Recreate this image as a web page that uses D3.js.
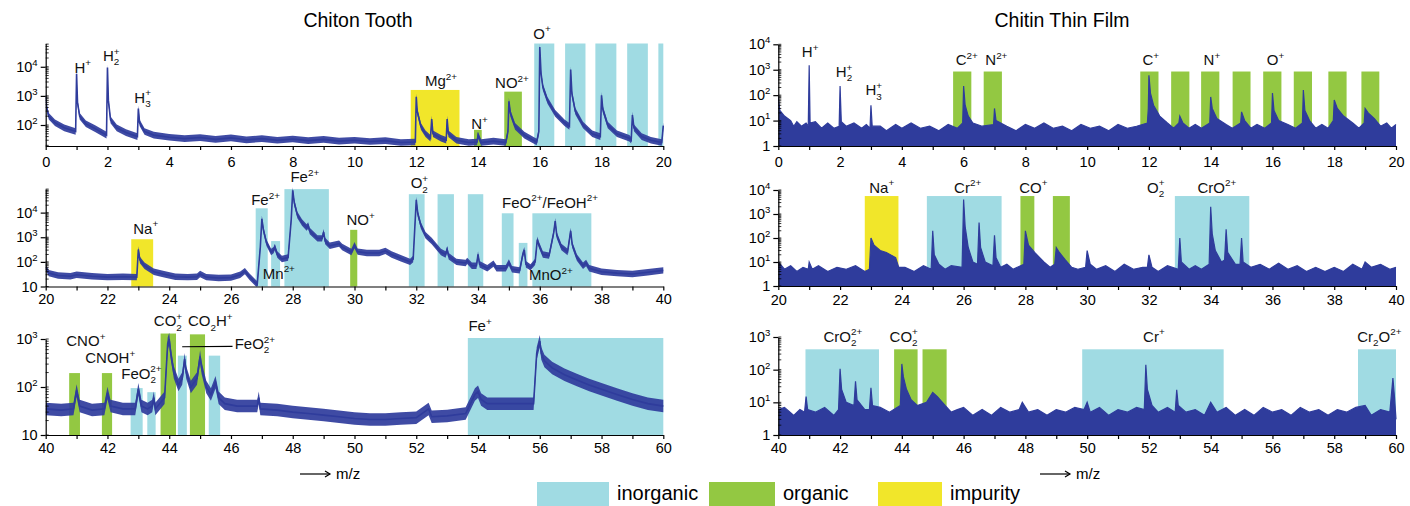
<!DOCTYPE html>
<html>
<head>
<meta charset="utf-8">
<title>Chiton Tooth / Chitin Thin Film mass spectra</title>
<script src="https://d3js.org/d3.v7.min.js"></script>
<style>
  * { margin: 0; padding: 0; }
  body { background: #fff; }
  svg { display: block; font-family: "Liberation Sans", Arial, Helvetica, sans-serif; }
</style>
</head>
<body>
<div id="chart"></div>
<script>
// ---- data: spectra as [m/z, counts] knots, bands as [from, to, top, kind], labels as [text, m/z, counts, anchor]

const traceTooth1 = [[0,1000],[0.03,400],[0.1,200],[0.3,120],[0.6,80],[0.97,60],[1.0,5800],[1.03,600],[1.1,200],[1.3,110],[1.6,75],[1.97,45],
  [2.0,9500],[2.03,700],[2.1,150],[2.3,80],[2.6,55],[2.97,40],[3.0,370],[3.04,120],[3.2,60],[3.5,45],[4,38],[4.5,34],[5,37],[5.5,32],
  [6,36],[6.5,31],[7,34],[7.5,30],[8,33],[8.5,29],[9,32],[9.5,28],[10,30],[10.5,27],[11,29],[11.5,25],[11.97,26],[12.0,930],[12.03,300],
  [12.15,90],[12.3,50],[12.46,35],[12.5,160],[12.54,50],[12.8,35],[12.97,30],
  [13.0,160],[13.04,50],[13.3,30],[13.7,25],[13.97,26],[14.0,45],[14.1,25],[14.5,28],[14.9,25],[14.97,60],[15.0,650],[15.05,250],[15.2,90],[15.5,45],
  [15.9,26],[15.97,60],[16.0,48000],[16.04,6000],[16.1,2000],[16.25,700],[16.5,250],[16.8,120],[16.96,90],[17.0,8000],[17.04,1200],
  [17.15,300],[17.4,100],[17.7,50],[17.96,40],[18.0,1050],[18.04,350],[18.2,100],[18.5,50],[18.9,35],[18.96,30],[19.0,220],[19.05,80],
  [19.3,40],[19.6,30],[19.95,25],[20.0,95]];
const traceTooth2 = [[20,60],[20.1,35],[20.4,28],[20.8,26],[21.0,30],[21.5,26],[22,24],[22.5,25],[22.95,24],[23.0,320],[23.05,120],[23.2,70],
  [23.5,40],[23.8,32],[24.2,25],[24.6,24],[24.9,25],[25.0,32],[25.2,24],[25.6,22],[26.0,23],[26.3,30],[26.45,42],[26.6,25],[26.85,12],
  [26.95,400],[27.0,5600],[27.05,2000],[27.15,600],[27.3,250],[27.38,300],[27.42,400],[27.5,200],[27.65,130],[27.85,150],[27.95,5000],
  [28.0,80000],[28.05,25000],[28.15,8000],[28.3,4000],[28.45,2500],[28.5,3000],[28.55,1800],[28.8,900],[28.95,900],[29.0,1600],[29.05,700],
  [29.2,450],[29.5,550],[29.6,400],[29.9,250],[30.0,470],[30.1,260],[30.4,230],[30.8,230],[31.0,280],[31.2,200],[31.5,140],[31.8,100],
  [31.9,130],[32.0,33000],[32.05,9000],[32.15,3000],[32.3,1200],[32.5,700],[32.8,250],[32.95,200],[33.0,320],[33.05,170],[33.3,100],
  [33.6,90],[33.65,110],[33.8,70],[33.95,70],[34.0,200],[34.05,80],[34.3,55],[34.5,85],[34.6,55],[34.9,55],[35.0,95],[35.1,50],[35.35,45],
  [35.45,200],[35.5,300],[35.55,80],[35.7,60],[35.85,100],[35.92,800],[35.97,500],[36.1,200],[36.3,180],[36.45,1500],[36.5,4500],
  [36.55,1200],[36.7,400],[36.9,250],[36.97,1000],[37.0,1800],[37.05,500],[37.2,150],[37.4,70],[37.5,90],[37.6,55],[38,40],[38.5,35],
  [39,32],[39.5,38],[40,45]];
const traceTooth3 = [[40,35],[40.5,33],[40.9,35],[41.0,85],[41.1,40],[41.5,33],[41.9,35],[42.0,75],[42.1,40],[42.5,35],[42.9,35],[43.0,90],
  [43.1,40],[43.3,35],[43.45,40],[43.5,60],[43.55,35],[43.85,60],[43.95,800],[44.0,1000],[44.05,500],[44.15,200],[44.3,110],[44.42,150],
  [44.5,380],[44.55,200],[44.7,100],[44.9,150],[45.0,430],[45.05,250],[45.2,100],[45.35,70],[45.5,125],[45.6,60],[45.8,45],[46.2,40],
  [46.5,40],[46.85,40],[46.9,60],[46.95,35],[47.5,33],[48,30],[48.5,28],[49,26],[49.5,24],[50,22],[50.5,21],[51,21],[51.5,22],[52,23],
  [52.4,35],[52.5,24],[53,25],[53.6,28],[53.9,70],[54.0,80],[54.1,55],[54.3,45],[55,45],[55.5,45],[55.8,45],[55.9,500],[56.0,900],
  [56.05,500],[56.15,350],[56.4,250],[56.8,180],[57.2,140],[57.6,110],[58,90],[58.5,70],[59,55],[59.5,45],[60,40]];

const traceFilm1 = [[0,80],[0.05,25],[0.2,15],[0.4,10],[0.5,6],[0.6,9],[0.75,6],[0.9,8],[0.97,6],[1.0,1500],[1.03,8],[1.2,9],[1.4,5],
  [1.6,8],[1.8,5],[1.97,6],[2.0,230],[2.04,9],[2.2,6],[2.45,8],[2.7,5],[2.85,7],[2.97,5],[3.0,40],[3.04,6],[3.3,6],[3.5,4],[3.8,7],
  [4.0,5],[4.3,8],[4.6,5],[4.9,6],[5.2,4],[5.5,7],[5.8,5],[5.97,8],[6.0,230],[6.05,40],[6.15,15],[6.3,8],[6.6,6],[6.97,7],[7.0,30],
  [7.05,10],[7.4,6],[7.7,4],[8.0,7],[8.3,5],[8.6,8],[8.9,5],[9.2,6],[9.5,4],[9.8,7],[10.1,5],[10.4,6],[10.7,4],[11.0,7],[11.3,5],
  [11.6,6],[11.95,8],[11.98,30],[12.0,600],[12.05,120],[12.15,40],[12.35,15],[12.6,8],[12.8,5],[12.97,8],[13.0,15],[13.1,8],[13.3,5],
  [13.5,7],[13.7,5],[13.97,8],[14.0,85],[14.05,30],[14.2,12],[14.5,7],[14.7,5],[14.97,8],[15.0,22],[15.1,10],[15.3,5],[15.5,7],[15.75,5],
  [15.97,8],[16.0,120],[16.05,25],[16.2,10],[16.5,7],[16.75,5],[16.97,8],[17.0,160],[17.05,25],[17.2,10],[17.4,5],[17.6,7],[17.8,5],
  [17.97,10],[18.0,65],[18.1,30],[18.3,15],[18.6,8],[18.8,5],[18.97,8],[19.0,30],[19.1,20],[19.3,12],[19.5,6],[19.7,8],[19.85,5],[20.0,7]];
const traceFilm2 = [[20,10],[20.2,5],[20.4,7],[20.6,4],[20.8,6],[20.97,5],[21.0,10],[21.1,5],[21.3,7],[21.6,4],[21.9,6],[22.2,5],
  [22.5,7],[22.8,4],[22.95,5],[23.0,100],[23.1,50],[23.3,30],[23.5,25],[23.8,15],[23.9,6],[24.1,6],[24.4,4],[24.7,7],[24.95,5],[25.0,200],
  [25.05,20],[25.2,8],[25.4,5],[25.6,7],[25.95,6],[26.0,4000],[26.05,300],[26.15,40],[26.3,10],[26.45,8],[26.5,440],[26.55,40],[26.7,10],
  [26.95,7],[27.0,130],[27.05,15],[27.2,6],[27.4,8],[27.6,5],[27.95,8],[28.0,200],[28.1,50],[28.3,25],[28.6,10],[28.8,6],[28.95,8],
  [29.0,40],[29.1,25],[29.3,12],[29.5,6],[29.7,5],[29.95,6],[30.0,30],[30.1,8],[30.3,5],[30.6,7],[30.9,4],[31.2,8],[31.5,5],[31.8,6],
  [31.95,6],[32.0,20],[32.1,6],[32.3,4],[32.6,7],[32.95,5],[33.0,100],[33.05,10],[33.3,5],[33.5,7],[33.7,5],[33.95,8],[34.0,2000],
  [34.05,150],[34.15,30],[34.35,10],[34.45,12],[34.5,230],[34.55,25],[34.8,8],[34.95,8],[35.0,100],[35.05,10],[35.3,6],[35.6,8],[35.9,5],
  [36.2,9],[36.5,5],[36.8,7],[37.1,4],[37.4,6],[37.7,4],[38.0,6],[38.3,4],[38.6,8],[38.9,5],[39.0,10],[39.2,6],[39.5,8],[39.8,5],[40,6]];
const traceFilm3 = [[40,6],[40.2,7],[40.5,4],[40.7,6],[40.85,5],[40.9,15],[40.95,6],[41.2,5],[41.5,7],[41.8,4],[41.95,6],[42.0,107],
  [42.05,25],[42.2,10],[42.45,8],[42.5,44],[42.55,12],[42.8,6],[42.95,6],[43.0,28],[43.05,8],[43.3,7],[43.6,5],[43.95,8],[44.0,150],
  [44.05,60],[44.15,25],[44.3,12],[44.5,8],[44.8,10],[45.0,20],[45.15,15],[45.4,8],[45.6,5],[45.8,6],[46.0,7],[46.3,4],[46.6,6],[46.9,4],
  [47.2,7],[47.5,5],[47.8,6],[47.9,10],[48.1,5],[48.4,6],[48.7,4],[49.0,6],[49.3,5],[49.6,7],[49.9,6],[50.0,10],[50.1,5],[50.4,7],
  [50.7,4],[51.0,6],[51.3,5],[51.6,7],[51.85,6],[51.9,140],[51.95,25],[52.1,8],[52.3,5],[52.6,7],[52.85,5],[52.9,24],[52.95,8],[53.2,5],
  [53.5,6],[53.8,4],[54.0,10],[54.2,5],[54.5,7],[54.8,4],[55.1,6],[55.4,4],[55.7,7],[56.0,5],[56.3,6],[56.6,4],[56.9,7],[57.2,5],[57.5,6],
  [57.8,4],[58.1,6],[58.4,5],[58.7,7],[59.0,8],[59.2,4],[59.5,6],[59.8,5],[59.9,55],[59.95,15],[60,3]];

const bandsTooth1 = [[11.82,13.4,1600,"impurity"],[13.87,14.12,68,"organic"],[14.85,15.42,1400,"organic"],
  [15.82,16.47,63000,"inorganic"],[16.82,17.48,63000,"inorganic"],[17.8,18.48,63000,"inorganic"],
  [18.83,19.5,63000,"inorganic"],[19.84,20,63000,"inorganic"]];
const bandsTooth2 = [[22.77,23.48,830,"impurity"],[26.8,27.19,15000,"inorganic"],[27.3,27.59,700,"inorganic"],
  [27.73,29.17,90000,"inorganic"],[29.86,30.09,2000,"organic"],[31.76,32.27,56000,"inorganic"],[32.69,33.22,56000,"inorganic"],
  [33.67,34.17,56000,"inorganic"],[34.77,35.15,9400,"inorganic"],[35.32,35.6,590,"inorganic"],[35.76,37.67,9400,"inorganic"]];
const bandsTooth3 = [[40.76,41.11,195,"organic"],[41.82,42.15,195,"organic"],[42.75,43.14,95,"inorganic"],
  [43.29,43.56,78,"inorganic"],[43.72,44.22,1300,"organic"],[44.28,44.57,450,"inorganic"],[44.67,45.16,1250,"organic"],
  [45.28,45.65,450,"inorganic"],[53.67,60,1050,"inorganic"]];
const bandsFilm1 = [[5.66,6.25,850,"organic"],[6.65,7.24,850,"organic"],[11.72,12.31,850,"organic"],[12.72,13.31,850,"organic"],
  [13.69,14.28,850,"organic"],[14.71,15.29,850,"organic"],[15.7,16.29,850,"organic"],[16.69,17.28,850,"organic"],
  [17.81,18.4,850,"organic"],[18.88,19.46,850,"organic"]];
const bandsFilm2 = [[22.8,23.89,5600,"impurity"],[24.81,27.23,5600,"inorganic"],[27.84,28.29,5600,"organic"],
  [28.89,29.44,5600,"organic"],[32.84,35.25,5600,"inorganic"]];
const bandsFilm3 = [[40.88,43.26,420,"inorganic"],[43.75,44.51,420,"organic"],[44.67,45.45,420,"organic"],
  [49.84,54.42,420,"inorganic"],[58.77,60,420,"inorganic"]];

const labelsTooth1 = [["H^{+}",1.2,6300],["H_{2}^{+}",2.12,16000],["H_{3}^{+}",3.14,590],["Mg^{2+}",12.8,2200],
  ["N^{+}",14.05,72],["NO^{2+}",15.1,1800],["O^{+}",16.07,93000]];
const labelsTooth2 = [["Na^{+}",23.24,1400],["Fe^{2+}",27.12,20000],["Fe^{2+}",28.39,170000],["Mn^{2+}",27.55,21],
  ["NO^{+}",30.2,3200],["O_{2}^{+}",32.1,98000],["FeO^{2+}/FeOH^{2+}",36.33,16000],["MnO^{2+}",36.36,18]];
const labelsTooth3 = [["CNO^{+}",41.3,720],["CNOH^{+}",42.09,310],["FeO_{2}^{2+}",43.1,150],["CO_{2}^{+}",43.96,1860],
  ["CO_{2}H^{+}",45.33,1860],["FeO_{2}^{2+}",46.12,620,"start"],["Fe^{+}",53.69,1450,"start"]];
const leaderTooth3 = [[44.42,690],[46.05,700]];
const labelsFilm1 = [["H^{+}",1.03,3200],["H_{2}^{+}",2.13,520],["H_{3}^{+}",3.09,100],["C^{2+}",6.1,1500],["N^{2+}",7.06,1500],
  ["C^{+}",12.06,1500],["N^{+}",14.04,1500],["O^{+}",16.1,1500]];
const labelsFilm2 = [["Na^{+}",23.35,7800],["Cr^{2+}",26.13,7800],["CO^{+}",28.26,7800],["O_{2}^{+}",32.22,7800],["CrO^{2+}",34.2,7800]];
const labelsFilm3 = [["CrO_{2}^{2+}",42.09,720],["CO_{2}^{+}",44.06,720],["Cr^{+}",52.16,720],["Cr_{2}O^{2+}",59.46,720]];

const yTicksTooth1 = [100, 1000, 10000];
const yTickLabelsTooth1 = ["10^{2}", "10^{3}", "10^{4}"];
const yTicksTooth2 = [10, 100, 1000, 10000];
const yTickLabelsTooth2 = ["10", "10^{2}", "10^{3}", "10^{4}"];
const yTicksTooth3 = [10, 100, 1000];
const yTickLabelsTooth3 = ["10", "10^{2}", "10^{3}"];
const yTicksFilm = [1, 10, 100, 1000, 10000];
const yTickLabelsFilm = ["1", "10^{1}", "10^{2}", "10^{3}", "10^{4}"];
const yTicksFilm3 = [1, 10, 100, 1000];
const yTickLabelsFilm3 = ["1", "10^{1}", "10^{2}", "10^{3}"];

const legendKinds = ["inorganic", "organic", "impurity"];
const titles = ["Chiton Tooth", "Chitin Thin Film"];

// ---- styles
const kindColor = { inorganic: "#a0dbe3", organic: "#93c842", impurity: "#f1e62a" };
const specColor = "#2f3c9c";
const W = 1410, H = 506;

const svg = d3.select("#chart").append("svg").attr("width", W).attr("height", H);
let clipCount = 0;

// text with ^{sup} and _{sub} pieces
function richText(sel, str, fs) {
  const parts = str.match(/\^\{[^}]*\}|_\{[^}]*\}|[^^_]+/g) || [];
  let shift = 0, prevKind = "n", prevLen = 0;
  parts.forEach(p => {
    let kind = "n", txt = p;
    if (p.startsWith("^{")) { kind = "sup"; txt = p.slice(2, -1); }
    else if (p.startsWith("_{")) { kind = "sub"; txt = p.slice(2, -1); }
    const target = kind === "sup" ? -0.42 * fs : kind === "sub" ? 0.3 * fs : 0;
    const small = fs * 0.66;
    const ts = sel.append("tspan").text(txt)
      .attr("dy", target - shift)
      .attr("font-size", kind === "n" ? fs : small);
    if (kind === "sup" && prevKind === "sub") ts.attr("dx", -prevLen * small * 0.56);
    shift = target; prevKind = kind; prevLen = txt.length;
  });
}

function drawPanel(p) {
  const x = d3.scaleLinear().domain(p.xDomain).range(p.xRange);
  const y = d3.scaleLog().domain(p.yDomain).range(p.yRange);
  const g = svg.append("g");
  const bottom = p.yRange[0], top = p.yRange[1];

  // colored assignment bands
  g.selectAll("rect.band").data(p.bands).join("rect")
    .attr("class", "band")
    .attr("x", d => x(d[0]))
    .attr("width", d => x(d[1]) - x(d[0]))
    .attr("y", d => y(d[2]))
    .attr("height", d => bottom - y(d[2]))
    .attr("fill", d => kindColor[d[3]]);

  // spectrum
  const clipId = "clip" + (clipCount++);
  svg.append("clipPath").attr("id", clipId).append("rect")
    .attr("x", p.xRange[0]).attr("y", top - 30)
    .attr("width", p.xRange[1] - p.xRange[0] + 1).attr("height", bottom - top + 30);
  const tg = g.append("g").attr("clip-path", `url(#${clipId})`);
  if (p.filled) {
    tg.append("path").datum(p.trace)
      .attr("d", d3.area().x(d => x(d[0])).y0(bottom).y1(d => y(d[1])))
      .attr("fill", specColor);
    tg.append("path").datum(p.trace)
      .attr("d", d3.line().x(d => x(d[0])).y(d => y(d[1])))
      .attr("fill", "none").attr("stroke", specColor).attr("stroke-width", 1.2);
  } else {
    tg.append("path").datum(p.trace)
      .attr("d", d3.area().x(d => x(d[0])).y0(d => y(d[1] / p.noise)).y1(d => y(d[1] * p.noise)))
      .attr("fill", specColor).attr("opacity", 0.92);
    tg.append("path").datum(p.trace)
      .attr("d", d3.line().x(d => x(d[0])).y(d => y(d[1])))
      .attr("fill", "none").attr("stroke", specColor).attr("stroke-width", 1.6);
  }

  // x axis
  const xa = g.append("g").attr("transform", `translate(0,${bottom})`)
    .call(d3.axisBottom(x)
      .tickValues(d3.range(p.xDomain[0], p.xDomain[1] + 0.5, 1))
      .tickFormat(d => d % 2 === 0 ? d : "")
      .tickSize(4).tickSizeOuter(0).tickPadding(p.pad));
  xa.attr("font-family", null).attr("font-size", 14.5);
  xa.selectAll("text").attr("fill", "#000");
  xa.selectAll("line, path").attr("stroke", "#000").attr("stroke-width", 1.2);

  // y axis
  const ya = g.append("g").attr("transform", `translate(${p.xRange[0]},0)`)
    .call(d3.axisLeft(y).tickValues(p.yTicks).tickFormat(() => "").tickSize(5).tickSizeOuter(0));
  ya.selectAll("line, path").attr("stroke", "#000").attr("stroke-width", 1.2);
  const [lo, hi] = p.yDomain;
  const minor = [];
  for (let e = Math.floor(Math.log10(lo)); e <= Math.ceil(Math.log10(hi)); e++) {
    for (let k = 1; k <= 9; k++) {
      const v = k * Math.pow(10, e);
      if (v >= lo && v <= hi) minor.push(v);
    }
  }
  g.selectAll("line.minor").data(minor).join("line")
    .attr("class", "minor")
    .attr("x1", p.xRange[0]).attr("x2", p.xRange[0] + 3)
    .attr("y1", d => y(d)).attr("y2", d => y(d))
    .attr("stroke", "#000").attr("stroke-width", 0.8);
  p.yTicks.forEach((v, i) => {
    const t = g.append("text").attr("x", p.xRange[0] - 8).attr("y", y(v) + 5)
      .attr("text-anchor", "end").attr("font-size", 14.5).attr("fill", "#000");
    richText(t, p.yTickLabels[i], 14.5);
  });

  // peak labels
  p.labels.forEach(d => {
    const t = g.append("text").attr("x", x(d[1])).attr("y", y(d[2]))
      .attr("text-anchor", d[3] || "middle").attr("font-size", 15).attr("fill", "#111");
    richText(t, d[0], 15);
  });
  if (p.leader) {
    g.append("path").datum(p.leader)
      .attr("d", d3.line().x(d => x(d[0])).y(d => y(d[1])))
      .attr("stroke", "#000").attr("stroke-width", 1.2).attr("fill", "none");
  }
}

const leftX = [45.7, 663.3], rightX = [778.3, 1396];

drawPanel({ trace: traceTooth1, bands: bandsTooth1, labels: labelsTooth1, xDomain: [0, 20], xRange: leftX,
  yDomain: [19, 63000], yRange: [146, 43.5], yTicks: yTicksTooth1, yTickLabels: yTickLabelsTooth1, noise: 1.3, pad: 7 });
drawPanel({ trace: traceTooth2, bands: bandsTooth2, labels: labelsTooth2, xDomain: [20, 40], xRange: leftX,
  yDomain: [10, 91000], yRange: [286.5, 189], yTicks: yTicksTooth2, yTickLabels: yTickLabelsTooth2, noise: 1.35, pad: 3 });
drawPanel({ trace: traceTooth3, bands: bandsTooth3, labels: labelsTooth3, leader: leaderTooth3, xDomain: [40, 60], xRange: leftX,
  yDomain: [10, 1000], yRange: [435, 339], yTicks: yTicksTooth3, yTickLabels: yTickLabelsTooth3, noise: 1.35, pad: 4 });
drawPanel({ trace: traceFilm1, bands: bandsFilm1, labels: labelsFilm1, xDomain: [0, 20], xRange: rightX, filled: true,
  yDomain: [1, 10000], yRange: [146, 44.3], yTicks: yTicksFilm, yTickLabels: yTickLabelsFilm, pad: 7 });
drawPanel({ trace: traceFilm2, bands: bandsFilm2, labels: labelsFilm2, xDomain: [20, 40], xRange: rightX, filled: true,
  yDomain: [1, 10000], yRange: [286, 190], yTicks: yTicksFilm, yTickLabels: yTickLabelsFilm, pad: 5 });
drawPanel({ trace: traceFilm3, bands: bandsFilm3, labels: labelsFilm3, xDomain: [40, 60], xRange: rightX, filled: true,
  yDomain: [1, 1000], yRange: [435, 337], yTicks: yTicksFilm3, yTickLabels: yTickLabelsFilm3, pad: 4 });

// titles
svg.selectAll("text.title").data(titles).join("text")
  .attr("class", "title")
  .attr("x", (d, i) => i === 0 ? 358 : 1062).attr("y", 27)
  .attr("text-anchor", "middle").attr("font-size", 19.5).attr("fill", "#000")
  .text(d => d);

// m/z arrows
[300, 1040].forEach(ax => {
  const a = svg.append("g").attr("stroke", "#000").attr("stroke-width", 1.2).attr("fill", "none");
  a.append("line").attr("x1", ax).attr("x2", ax + 30).attr("y1", 474).attr("y2", 474);
  a.append("path").attr("d", `M${ax + 25},471 L${ax + 30},474 L${ax + 25},477`);
  svg.append("text").attr("x", ax + 36).attr("y", 479).attr("font-size", 15).attr("fill", "#000").text("m/z");
});

// legend
const legendX = [537, 709, 878];
const legendW = [72, 66, 64];
legendKinds.forEach((k, i) => {
  svg.append("rect").attr("x", legendX[i]).attr("y", 482).attr("width", legendW[i]).attr("height", 24)
    .attr("fill", kindColor[k]);
  svg.append("text").attr("x", legendX[i] + legendW[i] + 8).attr("y", 500)
    .attr("font-size", 20).attr("fill", "#000").text(k);
});
</script>
</body>
</html>
